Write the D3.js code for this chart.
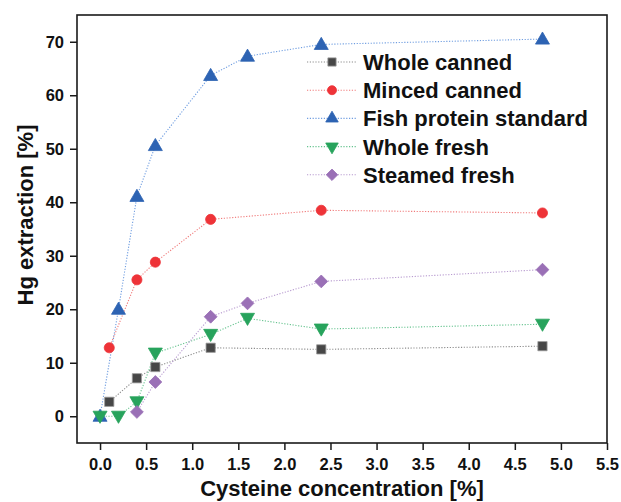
<!DOCTYPE html>
<html>
<head>
<meta charset="utf-8">
<script src="https://cdn.jsdelivr.net/npm/d3@7"></script>
<style>
  html, body { margin: 0; padding: 0; background: #fff; }
  svg { display: block; font-family: "Liberation Sans", Arial, sans-serif; }
</style>
</head>
<body>
<svg id="chart" width="621" height="502"></svg>
<script>
// ── Data ──
const seriesNames = ["Whole canned", "Minced canned", "Fish protein standard", "Whole fresh", "Steamed fresh"];

const wholeCannedX = [0.1, 0.4, 0.6, 1.2, 2.4, 4.8];
const wholeCannedY = [2.7, 7.1, 9.2, 12.8, 12.5, 13.1];

const mincedCannedX = [0.1, 0.4, 0.6, 1.2, 2.4, 4.8];
const mincedCannedY = [12.8, 25.5, 28.8, 36.8, 38.5, 38.0];

const fishProteinX = [0, 0.2, 0.4, 0.6, 1.2, 1.6, 2.4, 4.8];
const fishProteinY = [0, 20.0, 41.1, 50.6, 63.7, 67.3, 69.5, 70.5];

const wholeFreshX = [0, 0.2, 0.4, 0.6, 1.2, 1.6, 2.4, 4.8];
const wholeFreshY = [0, 0, 2.7, 11.8, 15.3, 18.3, 16.3, 17.2];

const steamedFreshX = [0.4, 0.6, 1.2, 1.6, 2.4, 4.8];
const steamedFreshY = [0.8, 6.4, 18.6, 21.1, 25.2, 27.4];

const xTicks = [0, 0.5, 1, 1.5, 2, 2.5, 3, 3.5, 4, 4.5, 5, 5.5];
const yTicks = [0, 10, 20, 30, 40, 50, 60, 70];

// ── Styles per series ──
const styles = [
  { symbol: d3.symbolSquare,   size: 85,  fill: "#474747", stroke: "#9a9a9a", line: "#8c8c8c", rot: 0 },
  { symbol: d3.symbolCircle,   size: 80,  fill: "#ee3338", stroke: "#ee3338", line: "#f07a7a", rot: 0 },
  { symbol: d3.symbolTriangle, size: 85,  fill: "#2d63b3", stroke: "#2d63b3", line: "#6f9de0", rot: 0 },
  { symbol: d3.symbolTriangle, size: 85,  fill: "#27a35c", stroke: "#27a35c", line: "#66c38f", rot: 180 },
  { symbol: d3.symbolSquare,   size: 82,  fill: "#9a70b6", stroke: "#9a70b6", line: "#b89bd0", rot: 45 }
];

const series = [
  [wholeCannedX, wholeCannedY],
  [mincedCannedX, mincedCannedY],
  [fishProteinX, fishProteinY],
  [wholeFreshX, wholeFreshY],
  [steamedFreshX, steamedFreshY]
].map(([xs, ys], i) => ({
  name: seriesNames[i],
  style: styles[i],
  points: xs.map((x, j) => ({ x, y: ys[j] }))
}));

// ── Layout ──
const M = { left: 77, right: 607, top: 15, bottom: 443 };
const svg = d3.select("#chart");

const x = d3.scaleLinear().domain([-0.25, 5.5]).range([M.left, M.right]);
const y = d3.scaleLinear().domain([-5, 75]).range([M.bottom, M.top]);

// ── Frame ──
svg.append("rect")
  .attr("x", M.left).attr("y", M.top)
  .attr("width", M.right - M.left).attr("height", M.bottom - M.top)
  .attr("fill", "none").attr("stroke", "#1a1a1a").attr("stroke-width", 1.6);

// ── Axes ──
const xAxis = svg.append("g").attr("transform", `translate(0,${M.bottom})`);
xAxis.call(d3.axisBottom(x).tickValues(d3.range(-0.25, 5.51, 0.25)).tickSize(4).tickFormat(""))
  .call(g => g.select(".domain").remove());
xAxis.call(d3.axisBottom(x).tickValues(xTicks).tickSize(7).tickPadding(8).tickFormat(d3.format(".1f")))
  .call(g => g.select(".domain").remove());

const yAxis = svg.append("g").attr("transform", `translate(${M.left},0)`);
yAxis.call(d3.axisLeft(y).tickValues(d3.range(-5, 75.1, 5)).tickSize(4).tickFormat(""))
  .call(g => g.select(".domain").remove());
yAxis.call(d3.axisLeft(y).tickValues(yTicks).tickSize(7).tickPadding(6))
  .call(g => g.select(".domain").remove());

svg.selectAll(".tick line").attr("stroke", "#1a1a1a").attr("stroke-width", 1.5);
svg.selectAll(".tick text")
  .style("font-size", "16.5px").style("font-weight", "bold").attr("fill", "#111")
  .style("font-family", "'Liberation Sans', Arial, sans-serif");

// Axis titles
svg.append("text")
  .attr("x", (M.left + M.right) / 2).attr("y", 496)
  .attr("text-anchor", "middle")
  .style("font-size", "22px").style("font-weight", "bold").attr("fill", "#111")
  .text("Cysteine concentration [%]");

svg.append("text")
  .attr("transform", "translate(33,215) rotate(-90)")
  .attr("text-anchor", "middle")
  .style("font-size", "22px").style("font-weight", "bold").attr("fill", "#111")
  .text("Hg extraction [%]");

// ── Lines + markers ──
const line = d3.line().x(d => x(d.x)).y(d => y(d.y));

series.forEach(s => {
  svg.append("path")
    .datum(s.points)
    .attr("fill", "none")
    .attr("stroke", s.style.line)
    .attr("stroke-width", 1.1)
    .attr("stroke-dasharray", "1.2 1.6")
    .attr("d", line);
});

series.forEach(s => {
  const sym = d3.symbol().type(s.style.symbol).size(s.style.size);
  svg.append("g").selectAll("path")
    .data(s.points)
    .join("path")
    .attr("d", sym)
    .attr("transform", d => `translate(${x(d.x)},${y(d.y) + (s.style.symbol === d3.symbolTriangle ? (s.style.rot ? -1 : 1) : 0)}) rotate(${s.style.rot})`)
    .attr("fill", s.style.fill)
    .attr("stroke", s.style.stroke)
    .attr("stroke-width", 0.8);
});

// ── Legend ──
const legend = svg.append("g");
series.forEach((s, i) => {
  const ly = 62 + i * 28.2;
  legend.append("line")
    .attr("x1", 307).attr("x2", 356)
    .attr("y1", ly).attr("y2", ly)
    .attr("stroke", s.style.line)
    .attr("stroke-width", 1.1)
    .attr("stroke-dasharray", "1.2 1.6");
  legend.append("path")
    .attr("d", d3.symbol().type(s.style.symbol).size(s.style.size * 0.8))
    .attr("transform", `translate(332,${ly}) rotate(${s.style.rot})`)
    .attr("fill", s.style.fill)
    .attr("stroke", s.style.stroke)
    .attr("stroke-width", 0.8);
  legend.append("text")
    .attr("x", 363).attr("y", ly + 8)
    .style("font-size", "22px").style("font-weight", "bold").attr("fill", "#111")
    .text(s.name);
});
</script>
</body>
</html>
